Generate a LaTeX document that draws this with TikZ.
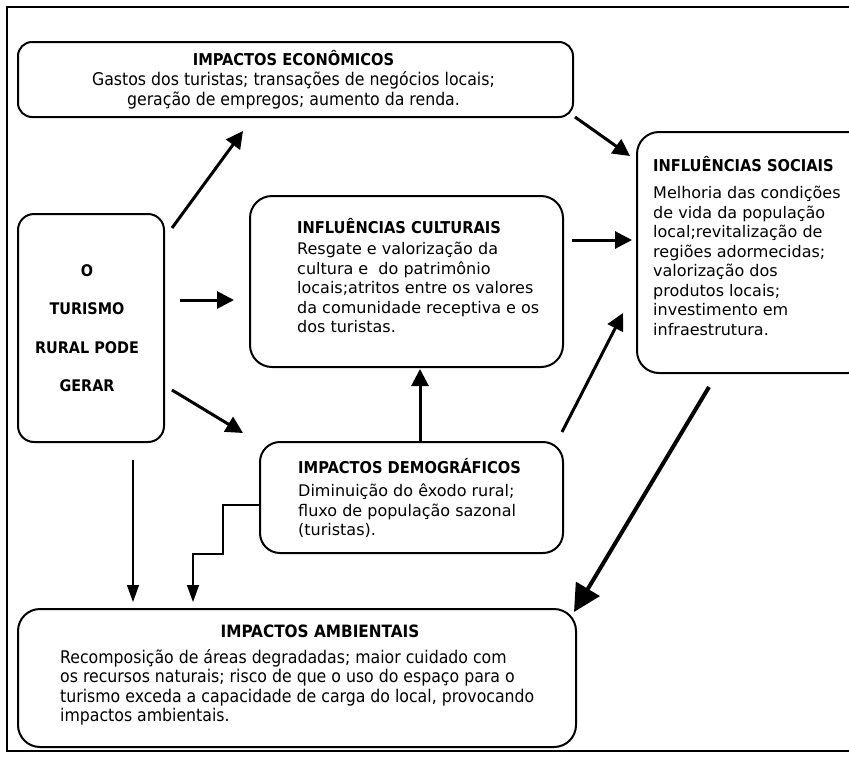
\documentclass[tikz,border=0pt]{standalone}
\usepackage{fontspec}
\setmainfont{DejaVu Sans}
\newfontfamily\condfont{DejaVu Sans Condensed}
\usetikzlibrary{arrows.meta,positioning}
\definecolor{inkblack}{HTML}{000000}

\begin{document}
\begin{tikzpicture}[x=1pt,y=-1pt,
  box/.style={draw=inkblack,line width=2pt,outer sep=0pt,inner sep=0pt},
  heavyarrow/.style={draw=inkblack,line width=3pt,-{Triangle[length=17pt,width=17pt]}},
  lightarrow/.style={draw=inkblack,line width=1.3pt,-{Triangle[length=17pt,width=12pt]}},
  headfont/.style={font=\condfont\bfseries\fontsize{16.3}{19.5}\selectfont},
  wideblock/.style={inner sep=0pt,align=left,font=\fontsize{16}{19.5}\selectfont},
  narrowblock/.style={inner sep=0pt,font=\condfont\fontsize{17.5}{19.5}\selectfont}]
  \useasboundingbox (0,0) rectangle (849,756);
  % moldura
  \draw[inkblack,line width=2.2pt] (880,7) -- (7,7) -- (7,751) -- (880,751);

  \node[box,rounded corners=14pt,minimum width=555pt,minimum height=75pt] (econ) at (295.5,79.5) {};
  \node[box,rounded corners=16pt,minimum width=146pt,minimum height=228pt] (turismo) at (91,328) {};
  \node[box,rounded corners=22pt,minimum width=313pt,minimum height=171pt] (cult) at (406.5,281.5) {};
  \node[box,rounded corners=22pt,minimum width=233pt,minimum height=241pt] (social) at (753.5,252.5) {};
  \node[box,rounded corners=20pt,minimum width=303pt,minimum height=111pt] (demo) at (411.5,497.5) {};
  \node[box,rounded corners=22pt,minimum width=558pt,minimum height=138pt] (amb) at (297,678) {};

  \node[narrowblock,align=center,anchor=north] (econ-text) at ([shift={(-2,8)}]econ.north)
    {{\bfseries\fontsize{16.3}{19.5}\selectfont IMPACTOS ECONÔMICOS}\\[0.5pt]
     Gastos dos turistas; transações de negócios locais;\\[0.5pt]
     geração de empregos; aumento da renda.};
  \node[inner sep=0pt,align=center,anchor=north,font=\condfont\bfseries\fontsize{16}{38.5}\selectfont]
    (turismo-text) at ([shift={(-4,50)}]turismo.north) {O\\TURISMO\\RURAL PODE\\GERAR};
  \node[wideblock,anchor=north west] (cult-text) at ([shift={(47,22)}]cult.north west)
    {{\condfont\bfseries\fontsize{16.3}{19.5}\selectfont INFLUÊNCIAS CULTURAIS}\\[2pt]
     Resgate e valorização da\\
     cultura e\ \ do patrimônio\\
     locais;atritos entre os valores\\
     da comunidade receptiva e os\\
     dos turistas.};
  \node[wideblock,anchor=north west] (social-text) at ([shift={(16,24)}]social.north west)
    {{\condfont\bfseries\fontsize{16.3}{19.5}\selectfont INFLUÊNCIAS SOCIAIS}\\[8pt]
     Melhoria das condições\\
     de vida da população\\
     local;revitalização de\\
     regiões adormecidas;\\
     valorização dos\\
     produtos locais;\\
     investimento em\\
     infraestrutura.};
  \node[wideblock,anchor=north west] (demo-text) at ([shift={(38,16)}]demo.north west)
    {{\condfont\bfseries\fontsize{16.3}{19.5}\selectfont IMPACTOS DEMOGRÁFICOS}\\[4pt]
     Diminuição do êxodo rural;\\
     fluxo de população sazonal\\
     (turistas).};
  \node[headfont,inner sep=0pt,anchor=north,font=\condfont\bfseries\fontsize{17}{19.5}\selectfont]
    (amb-title) at ([shift={(23,16)}]amb.north) {IMPACTOS AMBIENTAIS};
  \node[narrowblock,align=left,anchor=north west] (amb-text) at ([shift={(42,40)}]amb.north west)
    {Recomposição de áreas degradadas; maior cuidado com\\
     os recursos naturais; risco de que o uso do espaço para o\\
     turismo exceda a capacidade de carga do local, provocando\\
     impactos ambientais.};

  \draw[heavyarrow] ([shift={(8,14)}]turismo.north east) -- ([shift={(-52.5,14)}]econ.south);
  \draw[heavyarrow] ([shift={(16,-28)}]turismo.east) -- ([shift={(-16,18.5)}]cult.west);
  \draw[heavyarrow] ([shift={(8,-52)}]turismo.south east) -- ([shift={(-17,-9)}]demo.north west);
  \draw[heavyarrow] ([shift={(2,0)}]econ.south east) -- ([shift={(-7,24)}]social.north west);
  \draw[heavyarrow] ([shift={(9,-41.5)}]cult.east) -- ([shift={(-5,-12.5)}]social.west);
  \draw[heavyarrow] ([shift={(8.5,0)}]demo.north) -- ([shift={(13.5,2)}]cult.south);
  \draw[heavyarrow] ([shift={(-1,-10)}]demo.north east) -- ([shift={(-14,60.5)}]social.west);
  \draw[draw=inkblack,line width=4pt,-{Triangle[length=27pt,width=27pt]}]
    ([shift={(-44.5,14)}]social.south) -- ([shift={(-2,3)}]amb.north east);
  \draw[lightarrow] ([shift={(42,18)}]turismo.south) -- ([shift={(-164,-7)}]amb.north);
  \draw[lightarrow] ([shift={(0,7.5)}]demo.west) -- ++(-37,0) -- ++(0,49) -- ++(-30,0)
    -- ([shift={(-104,-7)}]amb.north);
\end{tikzpicture}
\end{document}
